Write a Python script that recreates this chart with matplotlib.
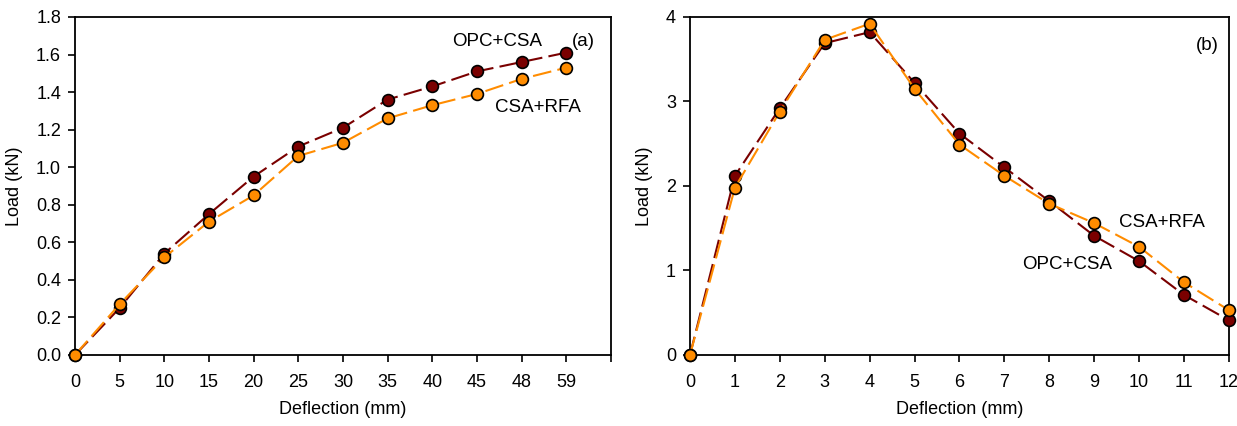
import matplotlib.pyplot as plt

plt.rcParams['font.family'] = ['Liberation Sans', 'DejaVu Sans']

# Panel (a)
defl_a = ['0', '5', '10', '15', '20', '25', '30', '35', '40', '45', '48', '59']
opc_a = [0.0, 0.25, 0.54, 0.75, 0.95, 1.11, 1.21, 1.36, 1.43, 1.51, 1.56, 1.61]
rfa_a = [0.0, 0.27, 0.52, 0.71, 0.85, 1.06, 1.13, 1.26, 1.33, 1.39, 1.47, 1.53]

# Panel (b)
defl_b = [0, 1, 2, 3, 4, 5, 6, 7, 8, 9, 10, 11, 12]
opc_b = [0.0, 2.12, 2.92, 3.69, 3.82, 3.22, 2.62, 2.22, 1.82, 1.41, 1.11, 0.71, 0.41]
rfa_b = [0.0, 1.98, 2.88, 3.73, 3.92, 3.15, 2.49, 2.12, 1.79, 1.56, 1.28, 0.86, 0.53]

c_opc = '#7a0000'
c_rfa = '#ff8c00'

fig = plt.figure(figsize=(12.37, 4.26), dpi=100)
ax1 = fig.add_axes([0.0606, 0.1667, 0.4333, 0.7935])
ax2 = fig.add_axes([0.5578, 0.1667, 0.4357, 0.7935])

style = dict(lw=1.5, dashes=(9, 3), marker='o', markersize=8.5,
             markeredgecolor='black', markeredgewidth=1.2, clip_on=False)

xa = list(range(len(defl_a)))
ax1.plot(xa, opc_a, color=c_opc, zorder=3, **style)
ax1.plot(xa, rfa_a, color=c_rfa, zorder=4, **style)
ax1.set_xlim(0, 12)
ax1.set_ylim(0, 1.8)
ax1.set_xticks(list(range(13)))
ax1.set_xticklabels(defl_a + [''])
ax1.set_yticks([0.0, 0.2, 0.4, 0.6, 0.8, 1.0, 1.2, 1.4, 1.6, 1.8])
ax1.set_yticklabels(['%.1f' % v for v in ax1.get_yticks()])
ax1.text(9.46, 1.667, 'OPC+CSA', ha='center', va='center', fontsize=13.5)
ax1.text(11.39, 1.667, '(a)', ha='center', va='center', fontsize=13.5)
ax1.text(10.36, 1.32, 'CSA+RFA', ha='center', va='center', fontsize=13.5)

ax2.plot(defl_b, opc_b, color=c_opc, zorder=3, **style)
ax2.plot(defl_b, rfa_b, color=c_rfa, zorder=4, **style)
ax2.set_xlim(0, 12)
ax2.set_ylim(0, 4)
ax2.set_xticks(defl_b)
ax2.set_yticks([0, 1, 2, 3, 4])
ax2.text(11.51, 3.66, '(b)', ha='center', va='center', fontsize=13.5)
ax2.text(10.51, 1.57, 'CSA+RFA', ha='center', va='center', fontsize=13.5)
ax2.text(8.40, 1.07, 'OPC+CSA', ha='center', va='center', fontsize=13.5)

for ax in (ax1, ax2):
    ax.set_xlabel('Deflection (mm)', fontsize=13, labelpad=7)
    ax.set_ylabel('Load (kN)', fontsize=13, labelpad=9)
    ax.tick_params(direction='out', length=5, width=1.2, labelsize=13,
                   top=False, right=False)
    ax.tick_params(axis='x', pad=9)
    ax.tick_params(axis='y', pad=5)
    for s in ax.spines.values():
        s.set_linewidth(1.3)

fig.savefig('out.png', dpi=100)
